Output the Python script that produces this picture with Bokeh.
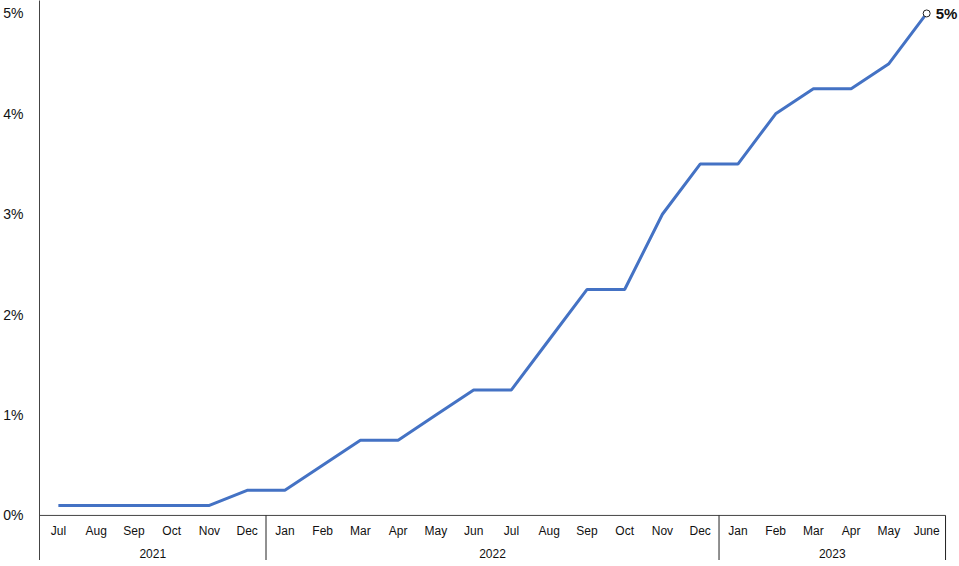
from bokeh.plotting import figure
from bokeh.models import FixedTicker, ColumnDataSource
from bokeh.core.properties import value
from bokeh.embed import file_html
from bokeh.resources import INLINE

# Bank rate, monthly, Jul 2021 - June 2023
months = ["Jul", "Aug", "Sep", "Oct", "Nov", "Dec",
          "Jan", "Feb", "Mar", "Apr", "May", "Jun", "Jul", "Aug", "Sep", "Oct", "Nov", "Dec",
          "Jan", "Feb", "Mar", "Apr", "May", "June"]
rates = [0.1, 0.1, 0.1, 0.1, 0.1, 0.25,
         0.25, 0.5, 0.75, 0.75, 1.0, 1.25, 1.25, 1.75, 2.25, 2.25, 3.0, 3.5,
         3.5, 4.0, 4.25, 4.25, 4.5, 5.0]
years = ["2021", "2022", "2023"]
year_counts = [6, 12, 6]
y_ticks = [0, 1, 2, 3, 4, 5]

FONT = value("Liberation Sans")
AXIS_COLOR = "#444444"

x = [i + 0.5 for i in range(len(months))]
y_bottom = -0.449

p = figure(width=959, height=560, x_range=(0, 24.37), y_range=(y_bottom, 5.129),
           output_backend="svg", toolbar_location=None,
           min_border_left=39, min_border_right=0, min_border_top=0, min_border_bottom=0)
p.outline_line_color = None
p.grid.visible = False
p.xaxis.visible = False

yax = p.yaxis[0]
yax.ticker = FixedTicker(ticks=y_ticks)
yax.major_label_overrides = {t: f"{t}%" for t in y_ticks}
yax.major_tick_line_color = None
yax.minor_tick_line_color = None
yax.major_label_standoff = 10
yax.axis_line_color = AXIS_COLOR
yax.major_label_text_font = "Liberation Sans"
yax.major_label_text_font_size = "14px"
yax.major_label_text_color = "#111111"

# baseline and group separators
p.segment(x0=[0], y0=[0], x1=[24], y1=[0], line_color=AXIS_COLOR, line_width=1)
bounds = [0]
for c in year_counts:
    bounds.append(bounds[-1] + c)
seps = bounds[1:]
p.segment(x0=seps, y0=[0] * len(seps), x1=seps, y1=[y_bottom] * len(seps),
          line_color="#222222", line_width=1)

# month labels
p.text(x=x, y=[-0.160] * len(x), text=months, text_font=FONT, text_font_size="12px",
       text_align="center", text_baseline="middle", text_color="#111111")

# year labels
year_x = [(bounds[i] + bounds[i + 1]) / 2 for i in range(len(years))]
p.text(x=year_x, y=[-0.379] * len(years), text=years, text_font=FONT, text_font_size="12px",
       text_align="center", text_baseline="middle", text_color="#111111")

# the rate line
src = ColumnDataSource(dict(x=x, y=rates))
p.line("x", "y", source=src, line_color="#4472C4", line_width=3)

# end point marker and label
p.scatter([x[-1]], [rates[-1]], size=7, fill_color="white", line_color="#222222", line_width=1)
p.text([x[-1]], [rates[-1]], text=[f"{rates[-1]:g}%"], text_font=FONT, text_font_size="15px",
       text_font_style="bold", x_offset=9, text_baseline="middle", text_color="#111111")

open("out.html", "w").write(file_html(p, INLINE))
